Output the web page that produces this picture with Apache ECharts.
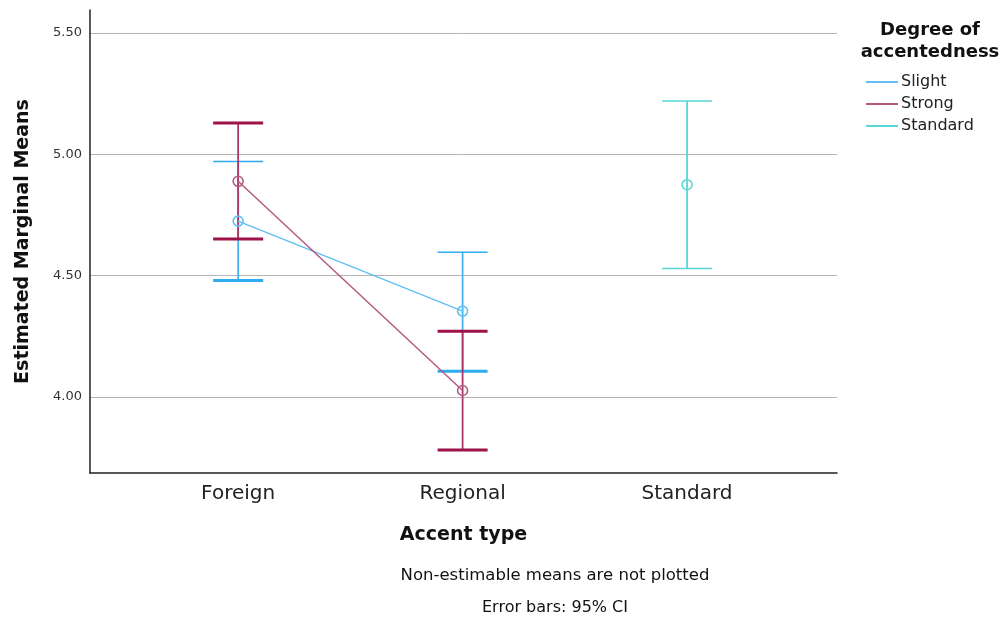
<!DOCTYPE html>
<html>
<head>
<meta charset="utf-8">
<script src="https://cdn.jsdelivr.net/npm/echarts@6/dist/echarts.min.js"></script>
<style>html,body{margin:0;padding:0;background:#fff;}#c{width:1000px;height:623px;}</style>
</head>
<body>
<div id="c"></div>
<script>
const categories = ['Foreign', 'Regional', 'Standard'];
const yTicks = [4.0, 4.5, 5.0, 5.5];
const seriesNames = ['Slight', 'Strong', 'Standard'];
const slightMean  = [4.725, 4.354, null];
const slightLower = [4.480, 4.106, null];
const slightUpper = [4.971, 4.597, null];
const strongMean  = [4.889, 4.027, null];
const strongLower = [4.651, 3.782, null];
const strongUpper = [5.129, 4.271, null];
const standardMean  = [null, null, 4.875];
const standardLower = [null, null, 4.530];
const standardUpper = [null, null, 5.220];

const FONT = 'DejaVu Sans';
const groups = [
  {name: seriesNames[0], mean: slightMean, lo: slightLower, hi: slightUpper,
   line: '#62c0f2', bar: '#45b4f2', cap: '#2fabf2', capHi: 1.5, capLo: 3},
  {name: seriesNames[1], mean: strongMean, lo: strongLower, hi: strongUpper,
   line: '#b45a80', bar: '#a8386a', cap: '#9c1249', capHi: 3, capLo: 3},
  {name: seriesNames[2], mean: standardMean, lo: standardLower, hi: standardUpper,
   line: '#5ad6d6', bar: '#5ad6d6', cap: '#5ad6d6', capHi: 1.5, capLo: 1.5}
];

const series = [];
groups.forEach(g => {
  const pts = [];
  const bars = [];
  categories.forEach((c, i) => {
    if (g.mean[i] != null) {
      pts.push([i, g.mean[i]]);
      bars.push([i, g.lo[i], g.hi[i]]);
    }
  });
  series.push({
    name: g.name, type: 'custom', color: g.line, z: 2,
    data: bars,
    renderItem: function (params, api) {
      const x = api.value(0);
      const lo = api.coord([x, api.value(1)]);
      const hi = api.coord([x, api.value(2)]);
      const hw = 25;
      return {type: 'group', children: [
        {type: 'line', shape: {x1: lo[0], y1: lo[1], x2: hi[0], y2: hi[1]}, style: {stroke: g.bar, lineWidth: 1.8}},
        {type: 'line', shape: {x1: hi[0] - hw, y1: hi[1], x2: hi[0] + hw, y2: hi[1]}, style: {stroke: g.cap, lineWidth: g.capHi}},
        {type: 'line', shape: {x1: lo[0] - hw, y1: lo[1], x2: lo[0] + hw, y2: lo[1]}, style: {stroke: g.cap, lineWidth: g.capLo}}
      ]};
    }
  });
  series.push({
    name: g.name, type: 'line', color: g.line, z: 3,
    data: pts, symbol: 'circle', symbolSize: 10,
    lineStyle: {color: g.line, width: 1.5},
    itemStyle: {color: 'rgba(255,255,255,0)', borderColor: g.line, borderWidth: 1.6},
    animation: false
  });
});

const option = {
  animation: false,
  backgroundColor: '#fff',
  grid: {left: 90, right: 163, top: 10, bottom: 150},
  xAxis: {
    type: 'value', min: -0.66, max: 2.668,
    name: 'Accent type', nameLocation: 'middle', nameGap: 53,
    nameTextStyle: {fontFamily: FONT, fontSize: 19, fontWeight: 'bold', color: '#111'},
    axisLine: {show: true, onZero: false, lineStyle: {color: '#222', width: 1.5}},
    axisTick: {show: false, customValues: [0, 1, 2]},
    splitLine: {show: false},
    axisLabel: {customValues: [0, 1, 2], formatter: v => categories[Math.round(v)],
      fontFamily: FONT, fontSize: 20, color: '#222', margin: 11}
  },
  yAxis: {
    type: 'value', min: 3.687, max: 5.595,
    name: 'Estimated Marginal Means', nameLocation: 'middle', nameGap: 57,
    nameTextStyle: {fontFamily: FONT, fontSize: 19, fontWeight: 'bold', color: '#111'},
    axisLine: {show: true, onZero: false, lineStyle: {color: '#222', width: 1.5}},
    axisTick: {show: false, customValues: yTicks},
    splitLine: {show: true, lineStyle: {color: '#b4b4b4', width: 1}},
    axisLabel: {customValues: yTicks, formatter: v => v.toFixed(2),
      fontFamily: FONT, fontSize: 13, color: '#333', margin: 8}
  },
  legend: {
    orient: 'vertical', left: 866, top: 74, padding: 0,
    itemWidth: 32, itemHeight: 2, itemGap: 6, icon: 'rect',
    data: seriesNames.map((n, i) => ({name: n, itemStyle: {color: groups[i].line}})),
    textStyle: {fontFamily: FONT, fontSize: 16, color: '#222', lineHeight: 15, padding: [0, 0, 0, -2]}
  },
  graphic: [
    {type: 'text', x: 930, y: 30, style: {text: 'Degree of', align: 'center', verticalAlign: 'middle',
      font: 'bold 18px "DejaVu Sans"', fill: '#111'}},
    {type: 'text', x: 930, y: 52, style: {text: 'accentedness', align: 'center', verticalAlign: 'middle',
      font: 'bold 18px "DejaVu Sans"', fill: '#111'}},
    {type: 'text', x: 555, y: 576, style: {text: 'Non-estimable means are not plotted', align: 'center', verticalAlign: 'middle',
      font: '16.5px "DejaVu Sans"', fill: '#111'}},
    {type: 'text', x: 555, y: 608, style: {text: 'Error bars: 95% CI', align: 'center', verticalAlign: 'middle',
      font: '16px "DejaVu Sans"', fill: '#111'}}
  ],
  series: series
};
const chart = echarts.init(document.getElementById('c'), null, {renderer: 'canvas'});
chart.setOption(option);
</script>
</body>
</html>
